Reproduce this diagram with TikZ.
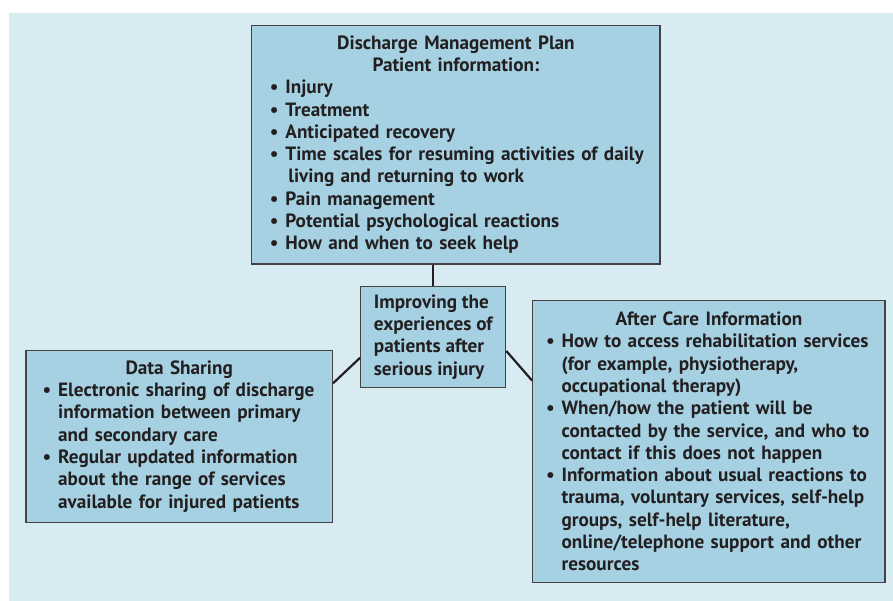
\documentclass[tikz,border=0pt]{standalone}
\usepackage{fontspec}
\setmainfont{PT Sans}
\usepackage{enumitem}
\setlist[itemize]{nosep,label=\textbullet,leftmargin=15.5pt,labelwidth=15.5pt,labelsep=0pt,align=left}
\definecolor{bgblue}{HTML}{D8EBF3}
\definecolor{boxblue}{HTML}{A5D1E2}
\definecolor{inkdark}{HTML}{231F20}
\tikzset{
  infobox/.style={draw=inkdark!85, line width=1.3pt, fill=boxblue, inner sep=0pt,
    text=inkdark, align=left, font=\bfseries\fontsize{19.2}{22.3}\selectfont},
  link/.style={draw=inkdark, line width=2.2pt},
}
\begin{document}
\begin{tikzpicture}[x=1pt,y=-1pt]
  \useasboundingbox (0,0) rectangle (893,601);
  \fill [bgblue] (9,13) rectangle (893,601);
  % boxes
  \node [infobox, minimum width=408.3pt, minimum height=238.7pt, text width=372pt] (plan) at (455.9,144.6)
    {{\centering Discharge Management Plan\\ Patient information:\par}
     \begin{itemize}
       \item Injury
       \item Treatment
       \item Anticipated recovery
       \item \leavevmode\rlap{Time scales for resuming activities of daily}\newline\hspace*{3pt}living and returning to work
       \item Pain management
       \item Potential psychological reactions
       \item How and when to seek help
     \end{itemize}};
  \node [infobox, minimum width=145pt, minimum height=101pt] (hub) at (433.2,336.8)
    {Improving the\\ experiences of\\ patients after\\ serious injury};
  \node [infobox, minimum width=306.3pt, minimum height=172pt, text width=273pt] (share) at (179.2,436.3)
    {{\centering Data Sharing\par}
     \begin{itemize}
       \item Electronic sharing of discharge\newline information between primary\newline and secondary care
       \item Regular updated information\newline about the range of services\newline available for injured patients
     \end{itemize}};
  \node [infobox, minimum width=352.3pt, minimum height=281.6pt, text width=325.7pt] (after) at (708.9,441.5)
    {{\centering After Care Information\par}
     \begin{itemize}
       \item How to access rehabilitation services\newline (for example, physiotherapy,\newline occupational therapy)
       \item When/how the patient will be\newline contacted by the service, and who to\newline contact if this does not happen
       \item Information about usual reactions to\newline trauma, voluntary services, self-help\newline groups, self-help literature,\newline online/telephone support and other\newline resources
     \end{itemize}};
  % connectors
  \draw [link] (plan.south -| hub.north) -- (hub.north);
  \draw [link] (hub.196.5) -- (share.19.4);
  \draw [link] (hub.-11.6) -- (after.161.3);
\end{tikzpicture}
\end{document}
